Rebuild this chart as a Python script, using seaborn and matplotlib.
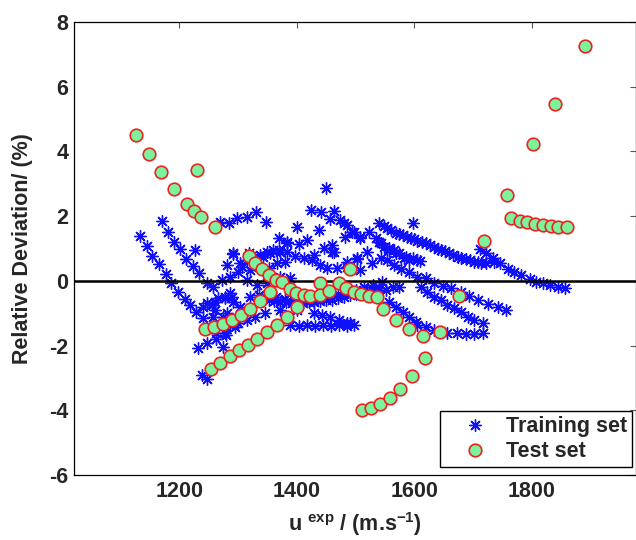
import matplotlib
matplotlib.use("Agg")
import matplotlib.pyplot as plt
import pandas as pd
import seaborn as sns

# Training set: speed of sound u (m/s) and relative deviation (%)
train_u = [
    1134, 1145, 1154, 1166, 1177, 1186, 1198, 1209, 1219, 1229, 1241,
    1171, 1181, 1191, 1202, 1212, 1224, 1234, 1247, 1258, 1272, 1286, 1300, 1315, 1332, 1349, 1372, 1389,
    1227, 1269, 1284, 1299, 1315, 1331, 1348,
    1281, 1292, 1304, 1315, 1329, 1343, 1355, 1369, 1383, 1400,
    1369, 1383, 1403, 1417, 1437, 1424, 1441, 1463, 1449, 1456, 1474, 1485, 1494, 1507, 1480, 1497, 1482, 1446, 1460, 1460,
    1292, 1318, 1326, 1338, 1349, 1360, 1372, 1383, 1397, 1412, 1426, 1440, 1452, 1469, 1486, 1502,
    1306, 1321, 1335, 1352, 1366, 1380, 1429, 1463, 1486, 1502, 1508, 1520, 1528, 1543,
    1241, 1255, 1266, 1278, 1286, 1292, 1304, 1321, 1335, 1247, 1261, 1278, 1289, 1261, 1281,
    1258, 1275, 1286, 1300, 1315, 1329, 1346, 1372, 1400, 1429, 1443, 1457, 1471, 1486, 1491,
    1389, 1403, 1417, 1431, 1445, 1459, 1472, 1485, 1497,
    1232, 1247, 1262, 1275, 1238, 1248, 1263, 1278, 1280, 1295,
    1340, 1352, 1362, 1372, 1382, 1392, 1401, 1410, 1420, 1430, 1440, 1450, 1460, 1470, 1480, 1490, 1500, 1510, 1520, 1530, 1540,
    1350, 1365, 1380, 1395, 1410, 1425, 1440, 1455, 1470, 1485, 1500, 1515, 1530, 1545,
    1540, 1554, 1568, 1580, 1594, 1605, 1619, 1633, 1645, 1659, 1674, 1688, 1702, 1713,
    1548, 1561, 1574, 1587, 1600, 1613, 1626, 1640, 1652, 1666, 1680, 1695, 1708, 1722, 1735, 1746, 1759, 1770, 1782, 1796, 1807, 1819, 1830, 1844, 1856,
    1712, 1722, 1733, 1597, 1523, 1508, 1534, 1540, 1548, 1557, 1568, 1582, 1591, 1605,
    1543, 1557, 1565, 1574, 1585, 1597, 1610,
    1554, 1565, 1577, 1591, 1605, 1619, 1634, 1648, 1662, 1679, 1693, 1708, 1725, 1742, 1756,
    1611, 1622, 1634, 1645, 1656, 1668, 1679, 1691, 1702, 1716,
    1605, 1619, 1634, 1645, 1656, 1673, 1688, 1702, 1716,
    1537, 1551, 1563, 1574, 1557, 1568, 1580, 1591, 1602,
]
train_dev = [
    1.40, 1.08, 0.77, 0.52, 0.21, -0.07, -0.33, -0.55, -0.76, -0.95, -1.16,
    1.85, 1.52, 1.19, 0.97, 0.67, 0.46, 0.23, -0.07, -0.18, 0.03, 0.13, 0.28, 0.03, -0.12, -0.07, 0.13, 0.08,
    0.95, 1.83, 1.78, 1.93, 1.98, 2.14, 1.83,
    0.49, 0.83, 0.54, 0.65, 0.70, 0.75, 0.85, 0.95, 1.16, 1.67,
    1.31, 1.21, 1.14, 1.26, 1.57, 2.19, 2.12, 2.17, 2.86, 1.90, 1.88, 1.73, 1.52, 1.32, 1.78, 1.52, 1.37, 1.01, 1.11, 0.90,
    0.85, 0.85, 0.70, 0.80, 0.90, 0.95, 0.90, 0.90, 0.77, 0.70, 0.65, 0.49, 0.39, 0.39, 0.44, 0.70,
    0.44, 0.34, 0.44, 0.39, 0.54, 0.59, 0.80, 0.90, 0.59, 0.67, 0.34, 0.90, 0.54, 0.70,
    -0.80, -0.75, -0.54, -0.49, -0.38, -0.64, -0.80, -0.49, -0.43, -0.69, -0.64, -0.54, -0.49, -0.90, -1.00,
    -1.11, -1.11, -1.36, -1.31, -1.21, -1.11, -1.00, -0.90, -0.90, -1.00, -1.05, -1.11, -1.21, -1.31, -1.31,
    -1.36, -1.38, -1.36, -1.40, -1.36, -1.38, -1.36, -1.38, -1.36,
    -2.08, -1.93, -1.81, -2.03, -2.91, -3.04, -1.62, -1.62, -1.67, -1.42,
    -0.55, -0.60, -0.62, -0.65, -0.66, -0.68, -0.66, -0.68, -0.66, -0.64, -0.62, -0.60, -0.58, -0.54, -0.50, -0.45, -0.40, -0.36, -0.30, -0.25, -0.22,
    -0.45, -0.50, -0.55, -0.58, -0.57, -0.55, -0.52, -0.48, -0.42, -0.35, -0.28, -0.20, -0.12, -0.05,
    1.78, 1.62, 1.49, 1.42, 1.31, 1.23, 1.16, 1.06, 0.95, 0.85, 0.75, 0.67, 0.59, 0.54,
    1.70, 1.58, 1.46, 1.36, 1.30, 1.20, 1.10, 1.00, 0.92, 0.80, 0.72, 0.64, 0.59, 0.56, 0.59, 0.56, 0.38, 0.28, 0.17, 0.07, -0.02, -0.07, -0.12, -0.18, -0.23,
    0.97, 0.85, 0.70, 1.78, 1.52, 1.37, 1.31, 1.21, 1.06, 0.95, 0.85, 0.70, 0.65, 0.65,
    1.16, 1.01, 0.95, 0.85, 0.75, 0.70, 0.62,
    0.65, 0.49, 0.36, 0.26, 0.13, 0.08, -0.07, -0.15, -0.23, -0.33, -0.47, -0.59, -0.70, -0.80, -0.90,
    -0.18, -0.33, -0.49, -0.59, -0.75, -0.85, -0.95, -1.11, -1.21, -1.31,
    -1.36, -1.42, -1.52, -1.58, -1.60, -1.62, -1.65, -1.65, -1.62,
    -0.49, -0.28, -0.18, -0.18, -0.64, -0.80, -0.95, -1.11, -1.26,
]

# Test set
test_u = [
    1126, 1148, 1169, 1191, 1213, 1225, 1237, 1261, 1231,
    1244, 1259, 1274, 1289, 1305, 1321, 1338, 1355,
    1318, 1329, 1341, 1353, 1365, 1375, 1388, 1399, 1412, 1423,
    1439, 1439, 1454, 1471, 1484, 1497, 1510, 1523, 1536, 1491,
    1254, 1270, 1286, 1302, 1317, 1333, 1349, 1366, 1383, 1400,
    1546, 1568, 1591, 1614, 1644, 1676, 1719,
    1511, 1526, 1541, 1558, 1576, 1596, 1618,
    1758, 1765, 1779, 1792, 1806, 1819, 1832, 1845, 1859,
    1802, 1840, 1891,
]
test_dev = [
    4.52, 3.92, 3.36, 2.85, 2.38, 2.17, 1.97, 1.66, 3.43,
    -1.49, -1.44, -1.32, -1.21, -1.04, -0.88, -0.63, -0.34,
    0.78, 0.56, 0.36, 0.19, 0.03, -0.03, -0.26, -0.38, -0.44, -0.47,
    -0.06, -0.44, -0.30, -0.08, -0.23, -0.33, -0.41, -0.46, -0.49, 0.37,
    -2.73, -2.55, -2.32, -2.15, -1.98, -1.81, -1.59, -1.35, -1.11, -0.80,
    -0.88, -1.21, -1.49, -1.70, -1.57, -0.46, 1.23,
    -3.99, -3.92, -3.81, -3.61, -3.33, -2.93, -2.37,
    2.65, 1.93, 1.86, 1.81, 1.77, 1.72, 1.69, 1.66, 1.66,
    4.24, 5.47, 7.26,
]

x_ticks = [1200, 1400, 1600, 1800]
y_ticks = [-6, -4, -2, 0, 2, 4, 6, 8]

train_df = pd.DataFrame({"u": train_u, "dev": train_dev})
test_df = pd.DataFrame({"u": test_u, "dev": test_dev})

sns.set_style("white")
plt.rcParams["font.family"] = ["Liberation Sans", "DejaVu Sans"]
plt.rcParams["font.weight"] = "bold"
plt.rcParams["mathtext.fontset"] = "custom"
plt.rcParams["mathtext.rm"] = "Liberation Sans:bold"
plt.rcParams["mathtext.it"] = "Liberation Sans:bold"
plt.rcParams["mathtext.bf"] = "Liberation Sans:bold"

FS = 15.5

fig = plt.figure(figsize=(6.36, 5.4), dpi=100)
ax = fig.add_axes([74 / 636, 1 - 475 / 540, 562 / 636, 453 / 540])

sns.scatterplot(data=train_df, x="u", y="dev", marker=(8, 2, 0), color="#1010FF",
                s=70, linewidth=1.0, label="Training set", ax=ax, zorder=2)
ax.axhline(0, color="black", lw=1.8, zorder=3)
sns.scatterplot(data=test_df, x="u", y="dev", marker="o", color="#7CF29C",
                edgecolor="#F02020", s=82, linewidth=1.2, label="Test set",
                ax=ax, zorder=4)

ax.set_xlim(1021, 1977)
ax.set_ylim(-6, 8)
ax.set_xticks(x_ticks)
ax.set_yticks(y_ticks)
ax.set_xticklabels([str(v) for v in x_ticks])
ax.set_yticklabels([str(v) for v in y_ticks])
ax.tick_params(axis="both", direction="in", top=True, right=True, length=4.5,
               width=0.8, color="0.35", labelsize=FS)
ax.tick_params(axis="x", pad=4.5)
ax.tick_params(axis="y", pad=4)
for lab in ax.get_xticklabels() + ax.get_yticklabels():
    lab.set_fontweight("bold")
for sp in ax.spines.values():
    sp.set_visible(True)
    sp.set_color("black")
    sp.set_linewidth(0.9)

ax.set_xlabel(r"u $^{exp}$ / (m.s$^{-1}$)", fontsize=FS, fontweight="bold")
ax.set_ylabel("Relative Deviation/ (%)", fontsize=FS, fontweight="bold")
ax.xaxis.set_label_coords(0.5, -0.077)
ax.yaxis.set_label_coords(-0.073, 0.5)

leg = ax.legend(loc="lower right", bbox_to_anchor=((632 - 74) / 562, (475 - 467) / 453),
                borderaxespad=0, frameon=True, fancybox=False, framealpha=1,
                edgecolor="black", prop={"size": FS, "weight": "bold"},
                handlelength=2.8, handletextpad=0.05, borderpad=0.23,
                labelspacing=0.17, scatterpoints=1, scatteryoffsets=[0.5])
leg.get_frame().set_linewidth(1.0)

fig.savefig("out.png", dpi=100)
